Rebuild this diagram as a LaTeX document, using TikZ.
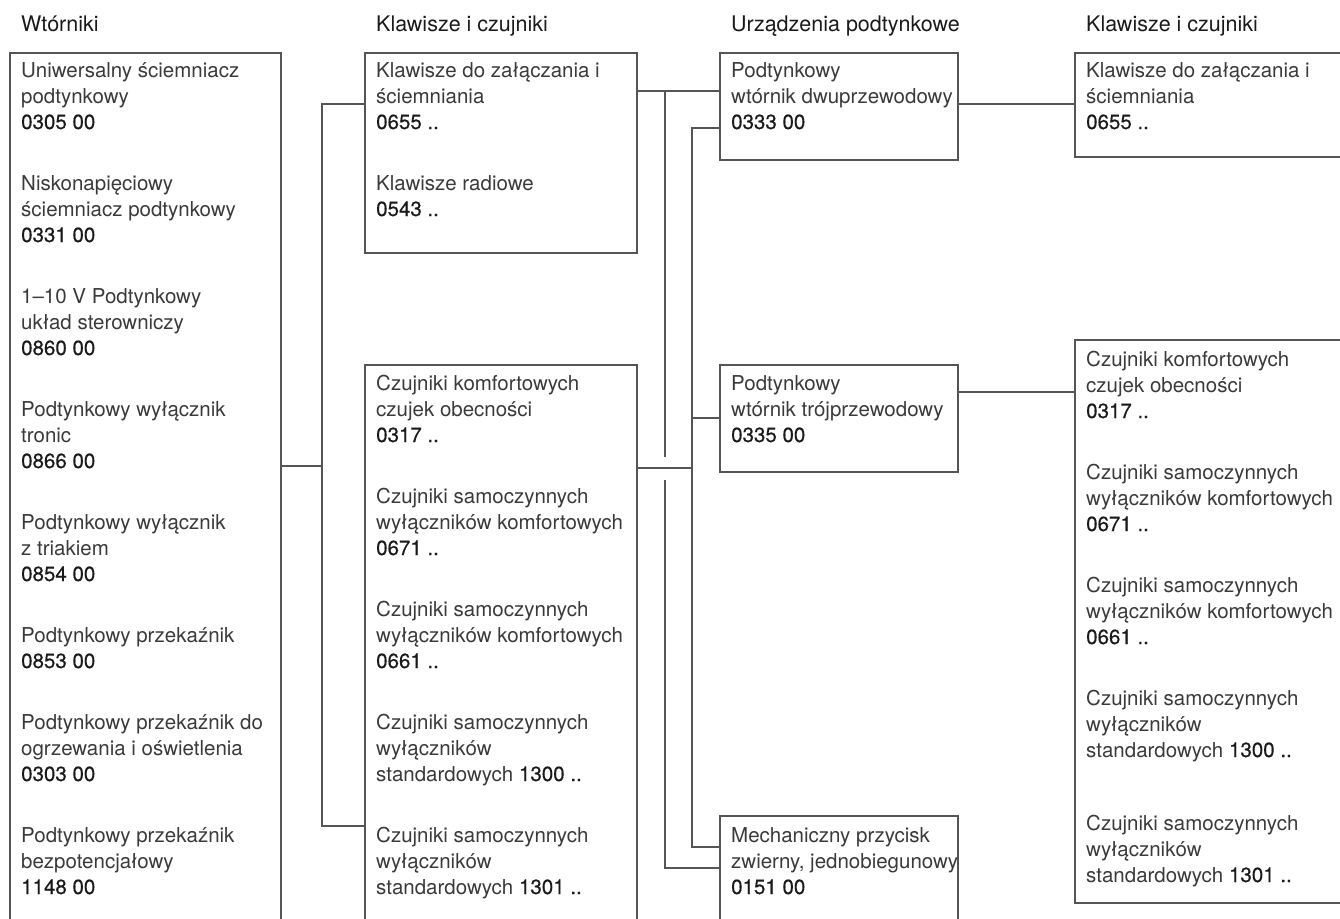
\documentclass[tikz,border=0pt]{standalone}
\usepackage{fontspec}
\setmainfont{TeX Gyre Heros}
\newfontfamily\kodfont{TeX Gyre Heros}[FakeBold=0.4]
\usetikzlibrary{positioning}
\definecolor{linieGray}{HTML}{555555}
\definecolor{tekstGray}{HTML}{3A3A3A}
\definecolor{kodBlack}{HTML}{1A1A1A}
\newcommand{\kod}[1]{{\kodfont\color{kodBlack}#1}}
\tikzset{
  ramka/.style={draw=linieGray, line width=1.4pt, anchor=north west, inner sep=0pt, outer sep=0pt},
  % base west = linia bazowa ostatniego wiersza wpisu
  wpis/.style={anchor=base west, align=left, inner sep=0pt, text=tekstGray},
  naglowek/.style={anchor=base west, inner sep=0pt, text=kodBlack, font=\fontsize{21.5}{26}\selectfont},
  linia/.style={draw=linieGray, line width=1.4pt}
}

\begin{document}
\begin{tikzpicture}[x=1pt, y=-1pt, font=\fontsize{20.5}{26}\selectfont]
        \useasboundingbox (0,0) rectangle (1340,918);
        \clip (0,0) rectangle (1340,918);
        % Naglowki kolumn
        \node[naglowek] (hWt) at (21,31) {Wtórniki};
        \node[naglowek] (hKl) at (376,31) {Klawisze i czujniki};
        \node[naglowek] (hUr) at (731,31) {Urządzenia podtynkowe};
        \node[naglowek] (hKlB) at (1086,31) {Klawisze i czujniki};
        % Ramki (dolne krawedzie otwarte wychodza poza obraz)
        \node[ramka, minimum width=271pt, minimum height=900pt] (wtorniki) at (10,53) {};
        \node[ramka, minimum width=272pt, minimum height=200pt] (klawisze) at (365,53) {};
        \node[ramka, minimum width=272pt, minimum height=600pt] (czujniki) at (365,365) {};
        \node[ramka, minimum width=238pt, minimum height=107pt] (dwuprz) at (720,53) {};
        \node[ramka, minimum width=238pt, minimum height=107pt] (trojprz) at (720,365) {};
        \node[ramka, minimum width=238pt, minimum height=200pt] (przycisk) at (720,816) {};
        \node[ramka, minimum width=300pt, minimum height=104pt] (klawiszeB) at (1075,53) {};
        \node[ramka, minimum width=300pt, minimum height=563pt] (czujnikiB) at (1075,340) {};
        % Wtorniki
        \node[wpis] (wt1) at (21,129) {Uniwersalny ściemniacz\\podtynkowy\\\kod{0305 00}};
        \node[wpis] (wt2) at (21,242) {Niskonapięciowy\\ściemniacz podtynkowy\\\kod{0331 00}};
        \node[wpis] (wt3) at (21,355) {1–10 V Podtynkowy\\układ sterowniczy\\\kod{0860 00}};
        \node[wpis] (wt4) at (21,468) {Podtynkowy wyłącznik\\tronic\\\kod{0866 00}};
        \node[wpis] (wt5) at (21,581) {Podtynkowy wyłącznik\\z triakiem\\\kod{0854 00}};
        \node[wpis] (wt6) at (21,668) {Podtynkowy przekaźnik\\\kod{0853 00}};
        \node[wpis] (wt7) at (21,781) {Podtynkowy przekaźnik do\\ogrzewania i oświetlenia\\\kod{0303 00}};
        \node[wpis] (wt8) at (21,894) {Podtynkowy przekaźnik\\bezpotencjałowy\\\kod{1148 00}};
        % Klawisze i czujniki
        \node[wpis] (kl1) at (376,129) {Klawisze do załączania i\\ściemniania\\\kod{0655 ..}};
        \node[wpis] (kl2) at (376,216) {Klawisze radiowe\\\kod{0543 ..}};
        \node[wpis] (cz1) at (376,442) {Czujniki komfortowych\\czujek obecności\\\kod{0317 ..}};
        \node[wpis] (cz2) at (376,555) {Czujniki samoczynnych\\wyłączników komfortowych\\\kod{0671 ..}};
        \node[wpis] (cz3) at (376,668) {Czujniki samoczynnych\\wyłączników komfortowych\\\kod{0661 ..}};
        \node[wpis] (cz4) at (376,781) {Czujniki samoczynnych\\wyłączników\\standardowych \kod{1300 ..}};
        \node[wpis] (cz5) at (376,894) {Czujniki samoczynnych\\wyłączników\\standardowych \kod{1301 ..}};
        % Urzadzenia podtynkowe
        \node[wpis] (ur1) at (731,129) {Podtynkowy\\wtórnik dwuprzewodowy\\\kod{0333 00}};
        \node[wpis] (ur2) at (731,442) {Podtynkowy\\wtórnik trójprzewodowy\\\kod{0335 00}};
        \node[wpis] (ur3) at (731,894) {Mechaniczny przycisk\\zwierny, jednobiegunowy\\\kod{0151 00}};
        % Klawisze i czujniki (prawa kolumna)
        \node[wpis] (klB1) at (1086,129) {Klawisze do załączania i\\ściemniania\\\kod{0655 ..}};
        \node[wpis] (czB1) at (1086,418) {Czujniki komfortowych\\czujek obecności\\\kod{0317 ..}};
        \node[wpis] (czB2) at (1086,531) {Czujniki samoczynnych\\wyłączników komfortowych\\\kod{0671 ..}};
        \node[wpis] (czB3) at (1086,644) {Czujniki samoczynnych\\wyłączników komfortowych\\\kod{0661 ..}};
        \node[wpis] (czB4) at (1086,757) {Czujniki samoczynnych\\wyłączników\\standardowych \kod{1300 ..}};
        \node[wpis] (czB5) at (1086,882) {Czujniki samoczynnych\\wyłączników\\standardowych \kod{1301 ..}};
        % Polaczenia: wtorniki -> klawisze i czujniki
        \coordinate (szynaA) at (322,104);
        \coordinate (szynaM) at (322,466);
        \coordinate (szynaB) at (322,826);
        \draw[linia] (klawisze.west |- szynaA) -- (szynaA) -- (szynaB) -- (czujniki.west |- szynaB);
        \draw[linia] (wtorniki.east |- szynaM) -- (szynaM);
        % Klawisze -> wtornik dwuprzewodowy i przycisk (przerwa na skrzyzowaniu)
        \coordinate (pionA) at (665,91);
        \coordinate (przerwaG) at (665,457);
        \coordinate (przerwaD) at (665,480);
        \coordinate (pionAd) at (665,868);
        \draw[linia] (klawisze.east |- pionA) -- (dwuprz.west |- pionA);
        \draw[linia] (pionA) -- (przerwaG);
        \draw[linia] (przerwaD) -- (pionAd) -- (przycisk.west |- pionAd);
        % Czujniki -> wszystkie urzadzenia podtynkowe
        \coordinate (pionB) at (692,468);
        \coordinate (pionBg) at (692,128);
        \coordinate (odgB) at (692,418);
        \coordinate (pionBd) at (692,847);
        \draw[linia] (czujniki.east |- pionB) -- (pionB);
        \draw[linia] (dwuprz.west |- pionBg) -- (pionBg) -- (pionBd) -- (przycisk.west |- pionBd);
        \draw[linia] (odgB) -- (trojprz.west |- odgB);
        % Urzadzenia podtynkowe -> prawa kolumna
        \draw[linia] (dwuprz.east |- 0,104) -- (klawiszeB.west |- 0,104);
        \draw[linia] (trojprz.east |- 0,392) -- (czujnikiB.west |- 0,392);
\end{tikzpicture}
\end{document}
